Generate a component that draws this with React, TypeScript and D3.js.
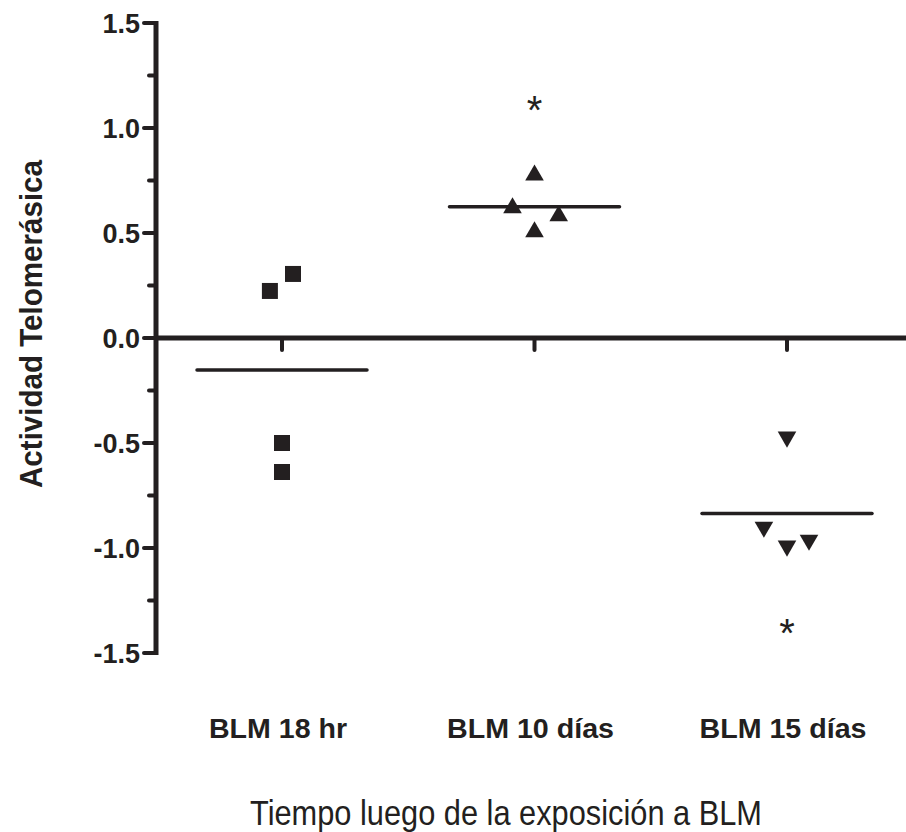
import React from "react";
import * as d3 from "d3";

const categories = ["BLM 18 hr", "BLM 10 días", "BLM 15 días"];
const blm18hr = [0.305, 0.224, -0.5, -0.638];
const blm10dias = [0.78, 0.624, 0.586, 0.51];
const blm15dias = [-0.476, -0.905, -0.995, -0.967];
const jitter18 = [0.5, -0.55, 0, 0];
const jitter10 = [0, -1, 1.1, 0];
const jitter15 = [0, -1.05, 0, 1];
const majorTicks = [1.5, 1.0, 0.5, 0.0, -0.5, -1.0, -1.5];
const minorTicks = [1.25, 0.75, 0.25, -0.25, -0.75, -1.25];
const significant = [false, true, true];
const yTitle = "Actividad Telomerásica";
const xTitle = "Tiempo luego de la exposición a BLM";

const W = 906;
const H = 832;
const INK = "#231f20";

export default function App() {
  const y = d3.scaleLinear().domain([-1.5, 1.5]).range([653, 23]);
  const x = d3.scalePoint<string>().domain(categories).range([282, 787]);
  const axisX = 156;
  const y0 = y(0);
  const groups = [
    { vals: blm18hr, jit: jitter18, shape: "square" },
    { vals: blm10dias, jit: jitter10, shape: "up" },
    { vals: blm15dias, jit: jitter15, shape: "down" },
  ];
  const sqSym = d3.symbol().type(d3.symbolSquare).size(256)()!;
  const triSym = d3.symbol().type(d3.symbolTriangle).size(150)()!;
  const font = "'Liberation Sans', Arial, sans-serif";

  return (
    <svg width={W} height={H} style={{ display: "block", position: "absolute", left: 0, top: 0 }}>
      <rect width={W} height={H} fill="#fff" />
      {/* y axis */}
      <line x1={axisX} x2={axisX} y1={y(1.5) - 2} y2={y(-1.5) + 2} stroke={INK} strokeWidth={5} />
      {majorTicks.map((t) => (
        <g key={"M" + t}>
          <line x1={axisX - 12} x2={axisX} y1={y(t)} y2={y(t)} stroke={INK} strokeWidth={4} strokeLinecap="round" />
          <text x={140} y={y(t)} dy="0.36em" textAnchor="end" fontFamily={font} fontWeight="bold" fontSize={27} fill={INK}>
            {t.toFixed(1)}
          </text>
        </g>
      ))}
      {minorTicks.map((t) => (
        <line key={"m" + t} x1={axisX - 7} x2={axisX} y1={y(t)} y2={y(t)} stroke={INK} strokeWidth={4} strokeLinecap="round" />
      ))}
      {/* x axis at zero */}
      <line x1={axisX} x2={W} y1={y0} y2={y0} stroke={INK} strokeWidth={5} />
      {categories.map((c, i) => (
        <g key={c}>
          <line x1={x(c)!} x2={x(c)!} y1={y0} y2={y0 + 12} stroke={INK} strokeWidth={4} strokeLinecap="round" />
          <text
            x={x(c)! - 4}
            y={738}
            textAnchor="middle"
            fontFamily={font}
            fontWeight="bold"
            fontSize={28}
            textLength={i === 0 ? 138 : 167}
            lengthAdjust="spacingAndGlyphs"
            fill={INK}
          >
            {c}
          </text>
        </g>
      ))}
      {/* data */}
      {groups.map((g, gi) => {
        const cx = x(categories[gi])!;
        const m = d3.mean(g.vals)!;
        return (
          <g key={gi}>
            <line x1={cx - 85} x2={cx + 85} y1={y(m)} y2={y(m)} stroke={INK} strokeWidth={3.5} strokeLinecap="round" />
            {g.vals.map((v, i) => {
              const px = cx + g.jit[i] * 22;
              const py = y(v);
              if (g.shape === "square")
                return <path key={i} d={sqSym} transform={`translate(${px},${py})`} fill={INK} />;
              if (g.shape === "up")
                return <path key={i} d={triSym} transform={`translate(${px},${py + 1})`} fill={INK} />;
              return <path key={i} d={triSym} transform={`translate(${px},${py - 1}) rotate(180)`} fill={INK} />;
            })}
            {significant[gi] && (
              <text
                x={cx}
                y={m > 0 ? y(d3.max(g.vals)!) - 50 : y(d3.min(g.vals)!) + 100}
                textAnchor="middle"
                fontFamily={font}
                fontSize={40}
                fill={INK}
              >
                *
              </text>
            )}
          </g>
        );
      })}
      {/* titles */}
      <text
        transform={`translate(42,324) rotate(-90)`}
        textAnchor="middle"
        fontFamily={font}
        fontWeight="bold"
        fontSize={32}
        textLength={328}
        lengthAdjust="spacingAndGlyphs"
        fill={INK}
      >
        {yTitle}
      </text>
      <text
        x={506}
        y={825}
        textAnchor="middle"
        fontFamily={font}
        fontSize={35}
        textLength={512}
        lengthAdjust="spacingAndGlyphs"
        fill={INK}
      >
        {xTitle}
      </text>
    </svg>
  );
}
